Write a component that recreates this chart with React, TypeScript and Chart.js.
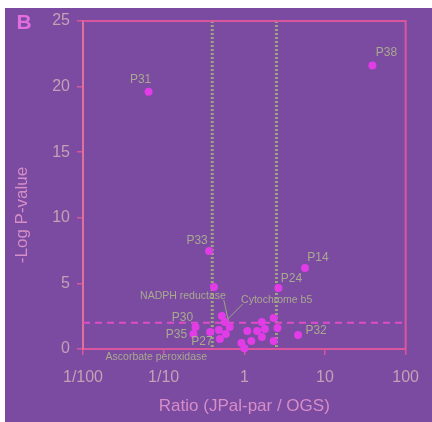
import React, { useEffect, useRef } from "react";
import { Chart, registerables } from "chart.js";

Chart.register(...registerables);

// ---- data ----
const xTickValues = [0.01, 0.1, 1, 10, 100];
const xTickLabels = ["1/100", "1/10", "1", "10", "100"];
const yTickValues = [0, 5, 10, 15, 20, 25];

const pointRatios = [
  0.065, 38.7, 0.366, 0.42, 2.65, 5.65, 4.64, 0.526, 0.573, 0.658, 0.248, 0.234,
  0.377, 0.484, 0.589, 0.498, 1.65, 2.31, 1.09, 1.44, 1.8, 2.58, 1.65, 1.22, 0.92,
  2.31, 1.0,
];
const pointNegLogP = [
  19.6, 21.6, 7.47, 4.73, 4.65, 6.17, 1.07, 2.52, 2.06, 1.68, 1.68, 1.14, 1.3, 1.45,
  1.14, 0.76, 2.06, 2.36, 1.37, 1.37, 1.52, 1.6, 0.91, 0.61, 0.46, 0.61, 0.05,
];

const labelTexts = [
  "P31", "P38", "P33", "NADPH reductase", "P24", "P14", "P32", "P30", "P35", "P27",
  "Cytochrome b5", "Ascorbate peroxidase",
];
const labelAnchors = [0, 1, 2, 3, 4, 5, 6, 10, 11, 15, 9, 26];
const labelLeads = [-1, -1, -1, 9, -1, -1, -1, -1, -1, -1, 8, -1];

const sigNegLogP = 2;
const ratioThresholds = [0.4, 2.5];

// ---- styles / layout (pixel offsets of label centre from its anchor point) ----
const labelOffsets: [number, number][] = [
  [-8, -12], [14, -13], [-12, -10], [-31, 9], [13, -9], [13, -10], [18, -4],
  [-13, -9], [-17, 1], [-18, 3], [47, -27], [-88, 9],
];

const BG = "#7b4aa1";
const PINK = "#d9569e";
const POINT = "#e13ce6";
const TICK_TEXT = "#c6a0b6";
const TITLE_TEXT = "#d68ec6";
const LABEL_TEXT = "#a9a98f";
const GREEN = "#9da57e";
const FONT = "'Liberation Sans', Arial, sans-serif";

const overlay = {
  id: "overlay",
  beforeDatasetsDraw(chart: any) {
    const { ctx, chartArea: a, scales } = chart;
    const x = scales.x, y = scales.y;
    ctx.save();
    // vertical threshold lines
    ctx.strokeStyle = GREEN;
    ctx.lineWidth = 3;
    ctx.setLineDash([2, 2]);
    ratioThresholds.forEach((r) => {
      const px = x.getPixelForValue(r);
      ctx.beginPath();
      ctx.moveTo(px, a.top);
      ctx.lineTo(px, a.bottom);
      ctx.stroke();
    });
    // significance line
    ctx.strokeStyle = "#e04cc8";
    ctx.lineWidth = 2;
    ctx.setLineDash([7, 5]);
    const py = y.getPixelForValue(sigNegLogP);
    ctx.beginPath();
    ctx.moveTo(a.left, py);
    ctx.lineTo(a.right, py);
    ctx.stroke();
    ctx.setLineDash([]);
    // frame top & right
    ctx.strokeStyle = PINK;
    ctx.lineWidth = 2;
    ctx.beginPath();
    ctx.moveTo(a.left, a.top);
    ctx.lineTo(a.right, a.top);
    ctx.lineTo(a.right, a.bottom);
    ctx.stroke();
    // leader lines
    ctx.strokeStyle = GREEN;
    ctx.lineWidth = 1;
    labelTexts.forEach((t, i) => {
      const lead = labelLeads[i];
      if (lead < 0) return;
      const ax = x.getPixelForValue(pointRatios[labelAnchors[i]]);
      const ay = y.getPixelForValue(pointNegLogP[labelAnchors[i]]);
      const lx = ax + labelOffsets[i][0];
      const ly = ay + labelOffsets[i][1];
      ctx.font = `10px ${FONT}`;
      const w = ctx.measureText(t).width;
      const sx = lead === 9 ? lx + w / 2 : lx - w / 2;
      const tx = x.getPixelForValue(pointRatios[lead]);
      const ty = y.getPixelForValue(pointNegLogP[lead]);
      ctx.beginPath();
      ctx.moveTo(sx, ly + 4);
      ctx.lineTo(tx, ty);
      ctx.stroke();
    });
    ctx.restore();
  },
  afterDraw(chart: any) {
    const { ctx, chartArea: a, scales } = chart;
    const x = scales.x, y = scales.y;
    ctx.save();
    ctx.textAlign = "center";
    ctx.textBaseline = "middle";
    // point labels
    ctx.fillStyle = LABEL_TEXT;
    labelTexts.forEach((t, i) => {
      const ax = x.getPixelForValue(pointRatios[labelAnchors[i]]);
      const ay = y.getPixelForValue(pointNegLogP[labelAnchors[i]]);
      ctx.font = t.length > 3 ? `10.5px ${FONT}` : `12px ${FONT}`;
      ctx.fillText(t, ax + labelOffsets[i][0], ay + labelOffsets[i][1]);
    });
    // panel letter
    ctx.fillStyle = "#e36ee0";
    ctx.font = `bold 21px ${FONT}`;
    ctx.fillText("B", 24, 23);
    // axis titles
    ctx.fillStyle = TITLE_TEXT;
    ctx.font = `17px ${FONT}`;
    ctx.fillText("Ratio (JPal-par / OGS)", (a.left + a.right) / 2, 406);
    ctx.save();
    ctx.translate(22, 215);
    ctx.rotate(-Math.PI / 2);
    ctx.fillText("-Log P-value", 0, 0);
    ctx.restore();
    ctx.restore();
  },
};

export default function App() {
  const ref = useRef<HTMLCanvasElement>(null);
  useEffect(() => {
    if (!ref.current) return;
    const chart = new Chart(ref.current, {
      type: "scatter",
      data: {
        datasets: [
          {
            data: pointRatios.map((r, i) => ({ x: r, y: pointNegLogP[i] })),
            backgroundColor: POINT,
            borderWidth: 0,
            pointRadius: 4,
            clip: false as any,
          },
        ],
      },
      options: {
        animation: false,
        responsive: false,
        layout: { padding: { top: 21, right: 19, left: 0, bottom: 0 } },
        plugins: { legend: { display: false }, tooltip: { enabled: false } },
        scales: {
          x: {
            type: "logarithmic",
            min: 0.01,
            max: 100,
            afterBuildTicks: (s: any) => {
              s.ticks = xTickValues.map((v) => ({ value: v, major: true }));
            },
            afterFit: (s: any) => {
              s.height = 73;
            },
            ticks: {
              autoSkip: false,
              maxRotation: 0,
              padding: 13,
              color: TICK_TEXT,
              font: { family: FONT, size: 16 },
              callback: (v: any) => {
                const i = xTickValues.findIndex((t) => Math.abs(t - v) / t < 1e-6);
                return i >= 0 ? xTickLabels[i] : "";
              },
            },
            grid: { drawOnChartArea: false, drawTicks: true, tickLength: 6, color: PINK, lineWidth: 1.5 },
            border: { display: true, color: PINK, width: 2 },
          },
          y: {
            type: "linear",
            min: 0,
            max: 25,
            afterBuildTicks: (s: any) => {
              s.ticks = yTickValues.map((v) => ({ value: v }));
            },
            afterFit: (s: any) => {
              s.width = 83;
            },
            ticks: {
              padding: 7,
              color: TICK_TEXT,
              font: { family: FONT, size: 16 },
            },
            grid: { drawOnChartArea: false, drawTicks: true, tickLength: 6, color: PINK, lineWidth: 1.5 },
            border: { display: true, color: "#e0709a", width: 2 },
          },
        },
      },
      plugins: [overlay],
    });
    return () => chart.destroy();
  }, []);

  return (
    <div style={{ position: "fixed", left: 0, top: 0, width: 432, height: 422, background: "#ffffff" }}>
      <div style={{ position: "absolute", left: 5, top: 8, right: 0, bottom: 0, background: BG }} />
      <canvas ref={ref} width={432} height={422} style={{ position: "absolute", left: 0, top: 0 }} />
    </div>
  );
}
